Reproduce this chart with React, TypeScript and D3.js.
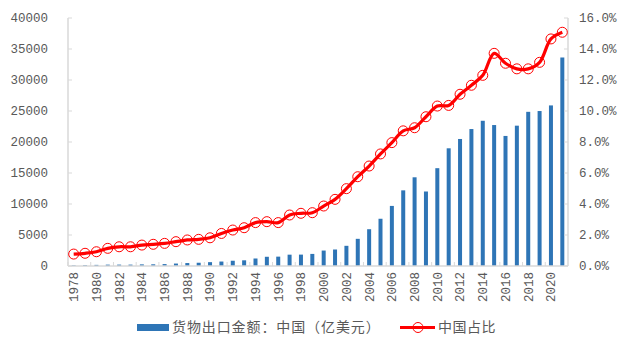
import * as d3 from 'd3'

// 年份
const years = [
  '1978', '1979', '1980', '1981', '1982', '1983', '1984', '1985', '1986', '1987',
  '1988', '1989', '1990', '1991', '1992', '1993', '1994', '1995', '1996', '1997',
  '1998', '1999', '2000', '2001', '2002', '2003', '2004', '2005', '2006', '2007',
  '2008', '2009', '2010', '2011', '2012', '2013', '2014', '2015', '2016', '2017',
  '2018', '2019', '2020', '2021'
]

// 货物出口金额:中国（亿美元）
const exportsValue = [
  97.5, 136.6, 181.2, 220.1, 223.2, 222.3, 261.4, 273.5, 309.4, 394.4,
  475.2, 525.4, 620.9, 719.1, 849.4, 917.4, 1210.1, 1487.8, 1510.5, 1827.9,
  1837.1, 1949.3, 2492.0, 2661.0, 3256.0, 4382.3, 5933.3, 7619.5, 9689.8, 12200.6,
  14306.9, 12016.1, 15777.5, 18983.8, 20487.1, 22090.0, 23422.9, 22734.7, 20976.3, 22633.4,
  24867.0, 24994.8, 25899.5, 33630.2
]

// 中国占比 (%)
const shareValue = [
  0.77, 0.82, 0.92, 1.14, 1.24, 1.24, 1.35, 1.4, 1.46, 1.57,
  1.68, 1.72, 1.82, 2.1, 2.32, 2.47, 2.8, 2.86, 2.8, 3.29,
  3.4, 3.44, 3.87, 4.3, 4.99, 5.76, 6.45, 7.23, 7.96, 8.72,
  8.92, 9.63, 10.32, 10.36, 11.08, 11.66, 12.3, 13.72, 13.08, 12.72,
  12.72, 13.14, 14.65, 15.08
]

const leftTicks = [0, 5000, 10000, 15000, 20000, 25000, 30000, 35000, 40000]
const rightTicks = [0, 2, 4, 6, 8, 10, 12, 14, 16]

const W = 629
const H = 351
const margin = { left: 68, right: 61, top: 18, bottom: 85 }
const numFont = '"Liberation Mono", monospace'
const cjkFont = '"Noto Sans CJK SC", sans-serif'
const textColor = '#595959'
const axisColor = '#d9d9d9'

export default function App() {
  const innerW = W - margin.left - margin.right
  const innerH = H - margin.top - margin.bottom
  const x0 = margin.left
  const y0 = margin.top

  const xScale = d3.scaleBand<string>().domain(years).range([x0, x0 + innerW])
  const yLeft = d3.scaleLinear().domain([0, 40000]).range([y0 + innerH, y0])
  const yRight = d3.scaleLinear().domain([0, 16]).range([y0 + innerH, y0])
  const cx = (y: string) => (xScale(y) ?? 0) + xScale.bandwidth() / 2
  const barW = 4

  const line = d3
    .line<number>()
    .x((_, i) => cx(years[i]))
    .y((d) => yRight(d))
    .curve(d3.curveCatmullRom.alpha(0.5))

  const bottom = y0 + innerH
  const right = x0 + innerW
  const legY = 327.5

  return (
    <svg
      width={W}
      height={H}
      style={{ position: 'absolute', left: 0, top: 0, background: '#fff' }}
    >
      {/* 柱子 */}
      {exportsValue.map((v, i) => (
        <rect
          key={years[i]}
          x={cx(years[i]) - barW / 2}
          y={yLeft(v)}
          width={barW}
          height={bottom - yLeft(v)}
          fill="#2e75b6"
        />
      ))}

      {/* 坐标轴 */}
      <line x1={x0} x2={x0} y1={y0} y2={bottom} stroke={axisColor} strokeWidth={1.5} />
      <line x1={right} x2={right} y1={y0} y2={bottom} stroke={axisColor} strokeWidth={1.5} />
      <line x1={x0} x2={right} y1={bottom} y2={bottom} stroke={axisColor} strokeWidth={1.5} />

      {leftTicks.map((t) => (
        <g key={'l' + t}>
          <line x1={x0} x2={x0 + 4} y1={yLeft(t)} y2={yLeft(t)} stroke={axisColor} />
          <text
            x={48}
            y={yLeft(t)}
            dy="0.35em"
            textAnchor="end"
            fontFamily={numFont}
            fontSize={12.5}
            fill={textColor}
          >
            {t}
          </text>
        </g>
      ))}

      {rightTicks.map((t) => (
        <g key={'r' + t}>
          <line x1={right - 4} x2={right} y1={yRight(t)} y2={yRight(t)} stroke={axisColor} />
          <text
            x={579}
            y={yRight(t)}
            dy="0.35em"
            textAnchor="start"
            fontFamily={numFont}
            fontSize={12.5}
            fill={textColor}
          >
            {t.toFixed(1) + '%'}
          </text>
        </g>
      ))}

      {/* x 轴刻度与标签 */}
      {years.map((y, i) =>
        i % 2 === 0 ? (
          <g key={'x' + y}>
            <line
              x1={xScale(y) ?? 0}
              x2={xScale(y) ?? 0}
              y1={bottom - 4}
              y2={bottom}
              stroke={axisColor}
            />
            <text
              transform={`translate(${cx(y)},${bottom + 6}) rotate(-90)`}
              dy="0.35em"
              textAnchor="end"
              fontFamily={numFont}
              fontSize={12.5}
              fill={textColor}
            >
              {y}
            </text>
          </g>
        ) : null
      )}

      {/* 占比折线 */}
      <path d={line(shareValue) ?? ''} fill="none" stroke="#ff0000" strokeWidth={3.2} />
      {shareValue.map((v, i) => (
        <circle
          key={'c' + years[i]}
          cx={cx(years[i])}
          cy={yRight(v)}
          r={5}
          fill="none"
          stroke="#ff0000"
          strokeWidth={1}
        />
      ))}

      {/* 图例 */}
      <rect x={137} y={324} width={32} height={7} fill="#2e75b6" />
      <text
        x={172}
        y={legY}
        dy="0.35em"
        fontFamily={cjkFont}
        fontSize={14}
        letterSpacing={0.9}
        fill={textColor}
      >
        货物出口金额：中国（亿美元）
      </text>
      <line x1={400} x2={435} y1={legY} y2={legY} stroke="#ff0000" strokeWidth={3.2} />
      <circle cx={418} cy={legY} r={5} fill="none" stroke="#ff0000" strokeWidth={1} />
      <text
        x={438}
        y={legY}
        dy="0.35em"
        fontFamily={cjkFont}
        fontSize={14}
        letterSpacing={0.5}
        fill={textColor}
      >
        中国占比
      </text>
    </svg>
  )
}
